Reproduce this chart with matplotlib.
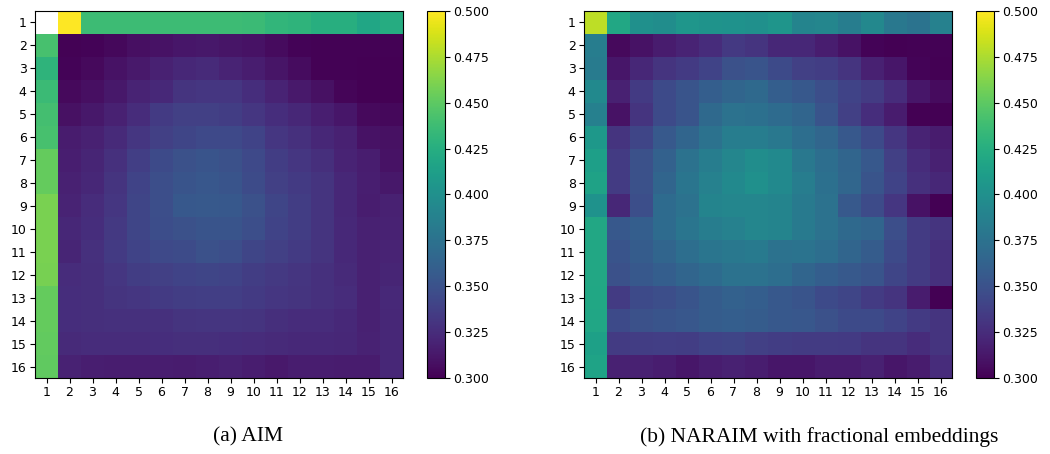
import numpy as np
import matplotlib
matplotlib.use("Agg")
import matplotlib.pyplot as plt

labels = [str(i) for i in range(1, 17)]

# AIM: first row (columns 1..16), first column (rows 2..16), interior rows 2..16 x cols 2..16
aim_row1 = [np.nan, 0.500, 0.437, 0.437, 0.437, 0.437, 0.437, 0.437, 0.437, 0.436,
            0.432, 0.430, 0.425, 0.425, 0.418, 0.424]
aim_col1 = [0.442, 0.430, 0.436, 0.440, 0.442, 0.453, 0.453, 0.460, 0.460, 0.460,
            0.459, 0.453, 0.453, 0.452, 0.451]
aim_inner = [
    [0.301, 0.302, 0.304, 0.308, 0.310, 0.312, 0.313, 0.311, 0.310, 0.306, 0.302, 0.301, 0.301, 0.301, 0.301],
    [0.302, 0.305, 0.310, 0.314, 0.318, 0.322, 0.324, 0.320, 0.316, 0.311, 0.307, 0.301, 0.301, 0.300, 0.300],
    [0.305, 0.308, 0.313, 0.320, 0.323, 0.330, 0.332, 0.332, 0.326, 0.320, 0.314, 0.309, 0.303, 0.300, 0.300],
    [0.309, 0.313, 0.318, 0.325, 0.334, 0.338, 0.338, 0.336, 0.332, 0.326, 0.322, 0.317, 0.312, 0.305, 0.304],
    [0.315, 0.318, 0.324, 0.332, 0.338, 0.342, 0.344, 0.344, 0.340, 0.332, 0.328, 0.322, 0.318, 0.310, 0.309],
    [0.317, 0.321, 0.328, 0.337, 0.345, 0.350, 0.352, 0.350, 0.344, 0.336, 0.332, 0.327, 0.320, 0.316, 0.310],
    [0.318, 0.322, 0.330, 0.340, 0.348, 0.352, 0.354, 0.352, 0.346, 0.338, 0.334, 0.330, 0.322, 0.317, 0.313],
    [0.320, 0.325, 0.332, 0.342, 0.348, 0.355, 0.356, 0.355, 0.350, 0.342, 0.336, 0.330, 0.322, 0.316, 0.318],
    [0.322, 0.326, 0.333, 0.342, 0.347, 0.350, 0.352, 0.352, 0.348, 0.340, 0.336, 0.330, 0.323, 0.318, 0.319],
    [0.321, 0.328, 0.334, 0.340, 0.344, 0.346, 0.350, 0.348, 0.342, 0.338, 0.334, 0.330, 0.323, 0.318, 0.320],
    [0.325, 0.327, 0.332, 0.336, 0.338, 0.340, 0.342, 0.340, 0.336, 0.333, 0.331, 0.328, 0.324, 0.318, 0.321],
    [0.326, 0.327, 0.330, 0.332, 0.334, 0.336, 0.337, 0.337, 0.334, 0.332, 0.330, 0.328, 0.325, 0.318, 0.323],
    [0.326, 0.327, 0.328, 0.328, 0.328, 0.330, 0.331, 0.331, 0.330, 0.327, 0.325, 0.325, 0.323, 0.318, 0.322],
    [0.324, 0.325, 0.325, 0.325, 0.326, 0.327, 0.327, 0.326, 0.325, 0.324, 0.323, 0.323, 0.322, 0.319, 0.322],
    [0.319, 0.317, 0.316, 0.316, 0.316, 0.315, 0.317, 0.318, 0.316, 0.314, 0.316, 0.316, 0.315, 0.315, 0.322],
]

# NARAIM with fractional embeddings
nar_row1 = [0.480, 0.420, 0.400, 0.398, 0.405, 0.403, 0.402, 0.400, 0.404, 0.390,
            0.392, 0.385, 0.393, 0.380, 0.376, 0.388]
nar_col1 = [0.385, 0.383, 0.395, 0.387, 0.407, 0.413, 0.415, 0.402, 0.420, 0.420,
            0.420, 0.419, 0.418, 0.414, 0.416]
nar_inner = [
    [0.305, 0.310, 0.315, 0.320, 0.325, 0.333, 0.330, 0.322, 0.322, 0.316, 0.310, 0.302, 0.300, 0.301, 0.301],
    [0.312, 0.322, 0.330, 0.334, 0.340, 0.350, 0.352, 0.345, 0.338, 0.336, 0.330, 0.318, 0.312, 0.302, 0.300],
    [0.318, 0.334, 0.345, 0.352, 0.360, 0.365, 0.368, 0.360, 0.355, 0.348, 0.340, 0.335, 0.325, 0.312, 0.306],
    [0.310, 0.330, 0.345, 0.352, 0.368, 0.375, 0.374, 0.370, 0.365, 0.352, 0.338, 0.326, 0.315, 0.300, 0.300],
    [0.330, 0.342, 0.356, 0.365, 0.375, 0.385, 0.385, 0.380, 0.372, 0.366, 0.355, 0.345, 0.332, 0.320, 0.315],
    [0.335, 0.350, 0.362, 0.375, 0.385, 0.392, 0.398, 0.395, 0.380, 0.372, 0.365, 0.355, 0.338, 0.325, 0.318],
    [0.335, 0.350, 0.365, 0.378, 0.388, 0.395, 0.400, 0.395, 0.385, 0.374, 0.366, 0.352, 0.340, 0.328, 0.322],
    [0.322, 0.348, 0.370, 0.375, 0.390, 0.392, 0.392, 0.390, 0.382, 0.375, 0.356, 0.346, 0.332, 0.310, 0.300],
    [0.355, 0.360, 0.370, 0.378, 0.385, 0.388, 0.392, 0.390, 0.382, 0.375, 0.368, 0.365, 0.348, 0.335, 0.330],
    [0.352, 0.358, 0.365, 0.372, 0.378, 0.380, 0.382, 0.375, 0.376, 0.372, 0.365, 0.358, 0.345, 0.335, 0.328],
    [0.350, 0.355, 0.360, 0.365, 0.370, 0.375, 0.375, 0.372, 0.365, 0.360, 0.356, 0.352, 0.342, 0.335, 0.328],
    [0.335, 0.345, 0.348, 0.352, 0.358, 0.362, 0.360, 0.355, 0.352, 0.345, 0.342, 0.335, 0.330, 0.315, 0.300],
    [0.345, 0.350, 0.352, 0.354, 0.358, 0.360, 0.358, 0.355, 0.354, 0.350, 0.345, 0.345, 0.340, 0.334, 0.330],
    [0.335, 0.336, 0.337, 0.336, 0.340, 0.342, 0.338, 0.336, 0.335, 0.335, 0.334, 0.330, 0.330, 0.325, 0.330],
    [0.318, 0.318, 0.316, 0.312, 0.316, 0.318, 0.316, 0.312, 0.312, 0.315, 0.315, 0.318, 0.312, 0.315, 0.325],
]

captions = ["(a) AIM", "(b) NARAIM with fractional embeddings"]


def build(row1, col1, inner):
    m = np.empty((16, 16))
    m[0, :] = row1
    m[1:, 0] = col1
    m[1:, 1:] = np.array(inner)
    return m


mats = [build(aim_row1, aim_col1, aim_inner), build(nar_row1, nar_col1, nar_inner)]

W, H = 1050, 454
fig = plt.figure(figsize=(W / 100, H / 100), dpi=100)

ax_lefts = [35, 584]
cb_lefts = [427, 976]
ax_w = 368
top, bottom = 11, 378
caption_x = [248, 819]

for k in range(2):
    ax = fig.add_axes([ax_lefts[k] / W, (H - bottom) / H, ax_w / W, (bottom - top) / H])
    im = ax.imshow(mats[k], cmap="viridis", vmin=0.3, vmax=0.5, aspect="auto",
                   interpolation="nearest")
    ax.set_xticks(range(16))
    ax.set_yticks(range(16))
    ax.set_xticklabels(labels, fontsize=9)
    ax.set_yticklabels(labels, fontsize=9)
    ax.tick_params(length=3.5, pad=2.5)
    cax = fig.add_axes([cb_lefts[k] / W, (H - bottom) / H, 18 / W, (bottom - top) / H])
    cb = fig.colorbar(im, cax=cax)
    cb.set_ticks([0.3, 0.325, 0.35, 0.375, 0.4, 0.425, 0.45, 0.475, 0.5])
    cb.ax.set_yticklabels(["0.300", "0.325", "0.350", "0.375", "0.400", "0.425",
                           "0.450", "0.475", "0.500"], fontsize=9)
    cb.ax.tick_params(length=3.5, pad=2.5)
    fig.text(caption_x[k] / W, 1 - 437 / H, captions[k], ha="center", va="center",
             fontsize=15.5, family="Liberation Serif")

fig.savefig("out.png", dpi=100)
